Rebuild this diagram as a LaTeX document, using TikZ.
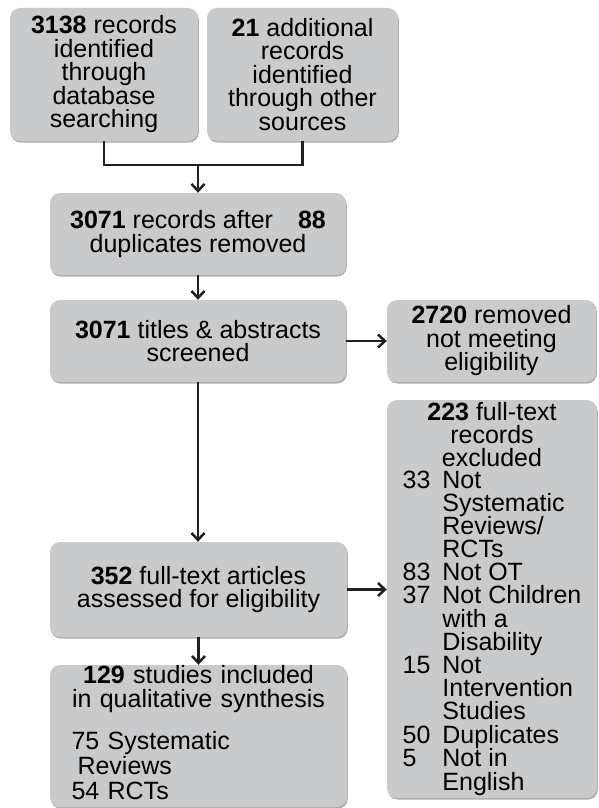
\documentclass[tikz,border=0pt]{standalone}
\usepackage{fontspec}
\setmainfont{Liberation Sans}
\usetikzlibrary{arrows.meta, shadows}
\definecolor{boxgray}{RGB}{201,202,204}
\definecolor{linegray}{RGB}{35,31,32}

\begin{document}
\begin{tikzpicture}[x=1pt, y=-1pt,
  box/.style={fill=boxgray, rounded corners=10pt, inner sep=0pt, align=center,
    drop shadow={shadow xshift=0.8pt, shadow yshift=-1.6pt, fill=black!40, opacity=0.8},
    font=\fontsize{25}{23.5}\selectfont},
  link/.style={draw=linegray, line width=2.5pt},
  arrow/.style={link, -{Straight Barb[length=7pt,width=13pt]}}]
\useasboundingbox (0,0) rectangle (598,808);
% Identification
\node[box, minimum width=188pt, minimum height=133pt] (ids) at (104,74.5)
  {\textbf{3138} records\\identified\\through\\database\\searching};
\node[box, minimum width=191pt, minimum height=133pt] (other) at (302.5,74.5)
  {\textbf{21} additional\\records\\identified\\through other\\sources};
% Screening
\node[box, minimum width=296pt, minimum height=82pt] (dup) at (198,234)
  {\textbf{3071} records after\quad\textbf{88}\\duplicates removed};
\node[box, minimum width=296pt, minimum height=82pt] (screen) at (198,341)
  {\textbf{3071} titles \& abstracts\\screened};
\node[box, minimum width=209pt, minimum height=82pt] (removed) at (491.5,341)
  {\textbf{2720} removed\\not meeting\\eligibility};
% Eligibility
\node[box, minimum width=297pt, minimum height=95pt] (full) at (198.5,589.5)
  {\textbf{352} full-text articles\\assessed for eligibility};
\node[box, minimum width=210pt, minimum height=398pt] (excl) at (492,599)
  {\parbox[b]{200pt}{\centering\fontsize{25}{23}\selectfont
   \textbf{223} full-text\\records\\excluded}\\[-2pt]
   {\def\arraystretch{0.75}\begin{tabular}[t]{@{}l@{\hspace{12pt}}l@{}}
   33 & Not\\ & Systematic\\ & Reviews/\\ & RCTs\\
   83 & Not OT\\
   37 & Not Children\\ & with a\\ & Disability\\
   15 & Not\\ & Intervention\\ & Studies\\
   50 & Duplicates\\
   5 & Not in\\ & English
   \end{tabular}}};
% Included
\node[box, minimum width=297pt, minimum height=142pt, text width=256pt] (incl) at (198.5,736)
  {\textbf{129} studies included\\in qualitative synthesis\\[18pt]
   \makebox[\linewidth][l]{\hspace{1pt}\begin{tabular}{@{}l@{}}75 Systematic\\
   \hspace{6pt}Reviews\\54 RCTs\end{tabular}}};
% Connectors
\coordinate (join) at (198,165);
\draw[link] (ids.south) -- (ids.south |- join) -- (other.south |- join) -- (other.south);
\draw[arrow] (join) -- (dup.north);
\draw[arrow] (dup.south) -- (screen.north);
\draw[arrow] (screen.east) -- (removed.west);
\draw[arrow] (screen.south) -- (screen.south |- full.north);
\draw[arrow] (full.east) -- (full.east -| excl.west);
\draw[arrow] (full.south) -- (incl.north);
\end{tikzpicture}
\end{document}
